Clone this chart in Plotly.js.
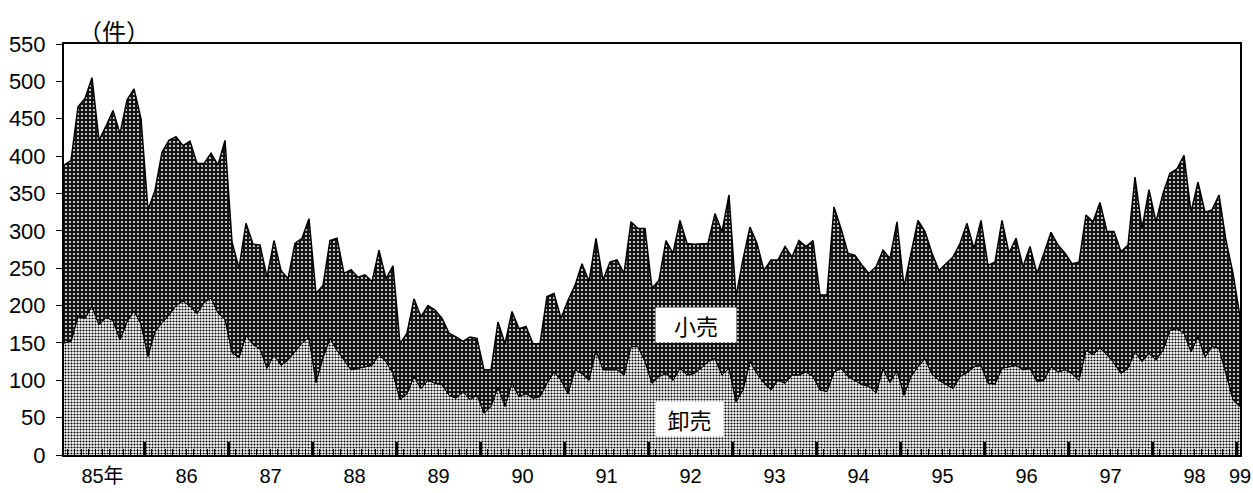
<!DOCTYPE html>
<html><head><meta charset="utf-8">
<script src="https://cdn.plot.ly/plotly-3.0.1.min.js"></script>
<style>html,body{margin:0;padding:0;background:#fff}</style>
</head><body><div id="chart" style="width:1253px;height:493px"></div>
<script>
// Year labels along the bottom axis (one per year, last one is Jan 1999)
const yearLabels = ['85年','86','87','88','89','90','91','92','93','94','95','96','97','98','99'];
const seriesNames = ['卸売','小売'];

// Monthly counts, Jan 1985 .. Jan 1999 (件)
const wholesale = [
150,152,185,183,199,174,184,180,154,178,193,175,
132,165,177,187,200,206,199,189,204,210,190,182,
137,130,160,148,142,116,134,120,127,139,150,157,
97,130,156,140,127,114,116,118,120,134,125,109,
74,82,105,89,100,96,94,80,76,85,74,80,
56,65,91,65,96,78,82,76,78,96,111,100,
82,114,109,100,140,114,114,114,107,145,145,125,
96,105,109,100,116,107,109,116,125,129,107,116,
71,87,125,109,96,87,100,96,107,107,111,105,
87,85,111,116,105,100,94,92,83,115,97,113,
80,105,118,129,108,100,95,89,105,110,118,120,
96,95,116,118,120,114,116,98,100,118,111,114,
109,100,140,134,143,134,123,109,116,138,125,136,
127,140,167,169,163,138,158,131,145,143,109,74,
65];
const retail = [
238,242,281,294,306,247,256,281,276,297,297,275,
196,189,228,234,226,208,221,201,186,194,198,239,
148,120,150,134,139,122,153,127,109,144,140,159,
119,97,131,150,116,134,122,123,112,140,111,144,
75,81,104,96,100,98,89,83,82,67,84,76,
58,49,87,84,96,91,90,73,71,116,105,83,
125,113,147,132,150,120,144,147,136,167,158,178,
127,129,178,170,198,176,173,166,158,194,192,232,
141,175,180,174,151,174,161,183,158,180,168,182,
127,129,221,187,165,167,160,151,169,159,166,199,
145,165,196,170,162,147,161,176,178,200,158,194,
158,163,198,152,170,138,163,145,170,180,170,156,
147,158,181,178,195,165,176,163,165,234,178,219,
185,210,210,214,238,187,207,194,183,205,178,169,
120];

const monthIdx = wholesale.map((_, i) => i);
const nYears = yearLabels.length - 1;
const labelPos = yearLabels.map((_, k) => k < nYears ? 12 * k + 5.5 : 12 * nYears);
const yearEdges = yearLabels.slice(0, nYears).map((_, k) => 12 * k + 11.5);
const monthEdges = monthIdx.slice(1).map(i => i - 0.5).filter(v => (v + 0.5) % 12 !== 0);

const YFONT = '"Liberation Sans Narrow", "Liberation Sans", sans-serif';
const XFONT = '"Liberation Sans", "Noto Sans CJK JP", sans-serif';
const JP = '"Noto Sans CJK JP", sans-serif';

const traces = [
  {
    x: monthIdx, y: wholesale, name: seriesNames[0], type: 'scatter', mode: 'lines',
    stackgroup: 'one', line: {color: '#000', width: 1},
    fillcolor: '#b4b4b4',
    fillpattern: {shape: '.', fgcolor: '#000', bgcolor: '#fff', size: 3, solidity: 0.4},
    hoverinfo: 'skip'
  },
  {
    x: monthIdx, y: retail, name: seriesNames[1], type: 'scatter', mode: 'lines',
    stackgroup: 'one', line: {color: '#000', width: 1.5},
    fillcolor: '#3a3a3a',
    fillpattern: {shape: '.', fgcolor: '#fff', bgcolor: '#151515', size: 4, solidity: 0.2},
    hoverinfo: 'skip'
  },
  // boundary line of the wholesale layer, drawn on the overlaying axis (carries monthly ticks)
  {
    x: monthIdx, y: wholesale, name: seriesNames[0], type: 'scatter', mode: 'lines',
    xaxis: 'x2', yaxis: 'y', line: {color: '#000', width: 1},
    hoverinfo: 'skip', showlegend: false
  }
];

const layout = {
  width: 1253, height: 493,
  margin: {l: 64, r: 13, t: 44, b: 38},
  paper_bgcolor: '#fff', plot_bgcolor: '#fff',
  showlegend: false,
  font: {family: XFONT, color: '#000', size: 20},
  xaxis: {
    range: [0, 168], tickmode: 'array', tickvals: labelPos, ticktext: yearLabels,
    ticks: '', tickfont: {size: 20, family: XFONT}, ticklabelstandoff: 2,
    showline: true, linecolor: '#000', linewidth: 2, mirror: true,
    showgrid: false, zeroline: false
  },
  xaxis2: {
    overlaying: 'x', anchor: 'y', side: 'bottom', range: [0, 168],
    tickmode: 'array', tickvals: yearEdges, showticklabels: false,
    ticks: 'inside', ticklen: 13, tickwidth: 3.5, tickcolor: '#000',
    minor: {ticks: 'inside', ticklen: 6, tickwidth: 1.2, tickcolor: '#000', tickmode: 'array', tickvals: monthEdges, showgrid: false},
    showgrid: false, zeroline: false, showline: false
  },
  yaxis: {
    range: [0, 550], tickmode: 'linear', tick0: 0, dtick: 50,
    ticks: 'outside', ticklen: 6, tickwidth: 1, tickcolor: '#000',
    showline: true, linecolor: '#000', linewidth: 2, mirror: true,
    showgrid: false, zeroline: false, tickfont: {size: 22, family: YFONT}, ticklabelstandoff: 6
  },
  annotations: [
    {text: '（件）', xref: 'paper', yref: 'paper', x: (114 - 64) / 1176, y: 1 + (44 - 30) / 411,
     xanchor: 'center', yanchor: 'middle', showarrow: false, font: {size: 24, family: JP}},
    {text: seriesNames[1], xref: 'x', yref: 'y', x: 90.3, y: 174, showarrow: false,
     bgcolor: '#fff', width: 78, height: 32, font: {size: 22, family: JP}},
    {text: seriesNames[0], xref: 'x', yref: 'y', x: 89.4, y: 48, showarrow: false,
     bgcolor: '#fff', width: 65, height: 32, font: {size: 22, family: JP}}
  ]
};

Plotly.newPlot('chart', traces, layout, {displayModeBar: false, staticPlot: true});
</script>
</body></html>
